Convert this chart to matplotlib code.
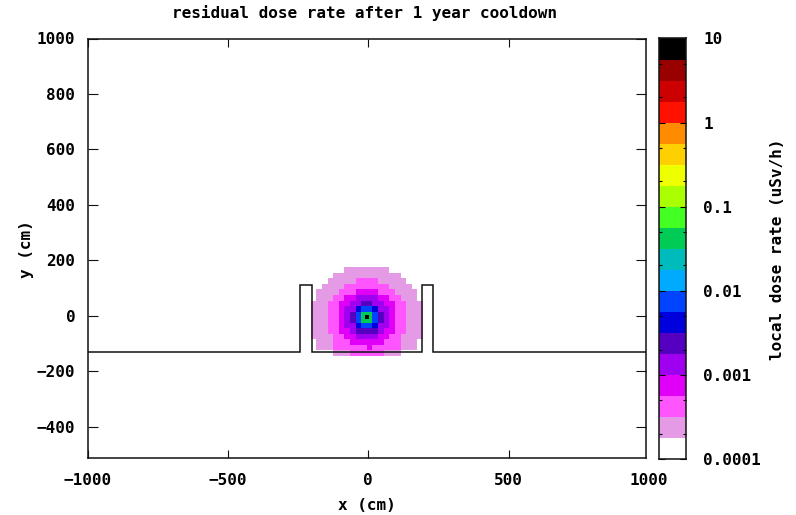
"""Residual dose rate map (gnuplot pm3d look) with a stepped log colour box."""

import numpy as np
import matplotlib
matplotlib.use("Agg")
import matplotlib.pyplot as plt
from matplotlib.colors import BoundaryNorm, ListedColormap

FONT = "DejaVu Sans Mono"
FONT_SIZE = 11.5

# colour bands, bottom to top, 4 per decade from 1e-4 to 10
band_edges = [1e-4, 1.78e-4, 3.16e-4, 5.62e-4,
              1e-3, 1.78e-3, 3.16e-3, 5.62e-3,
              1e-2, 1.78e-2, 3.16e-2, 5.62e-2,
              1e-1, 1.78e-1, 3.16e-1, 5.62e-1,
              1.0, 1.78, 3.16, 5.62, 10.0]
band_colors = ["#ffffff", "#e59ae6", "#ff55ff", "#e000f8",
               "#a000f0", "#5500c0", "#0000dd", "#0044ff",
               "#00aaff", "#00bbbb", "#00cc55", "#44ff22",
               "#aaff00", "#eeff00", "#ffd000", "#ff8c00",
               "#ff1100", "#cc0000", "#990000", "#000000"]

# dose by colour band, keyed by the codes used in dose_rows
dose_by_code = {"1": 2.4e-4, "2": 4.2e-4, "3": 7.5e-4, "4": 1.3e-3,
                "5": 2.4e-3, "6": 4.2e-3, "7": 7.5e-3, "G": 4.2e-2}

# 20 cm cells, rows from the top down
dose_rows = [
    "......11111111......",
    "....111111111111....",
    "...11111222211111...",
    "..1111222222221111..",
    ".111122233332221111.",
    ".111223344443322111.",
    "11122334455443322111",
    "11122344677644322111",
    "111223457GG754322111",
    "111223457GG754322111",
    "11122344677644322111",
    "11122334555543322111",
    "11112233444433221111",
    ".111222333333222111.",
    ".111222222322222111.",
    "....111222222111....",
]
cell_x_edges = [-205, -185, -165, -145, -125, -105, -85, -65, -45, -25, -5,
                15, 35, 55, 75, 95, 115, 135, 155, 175, 195]
cell_y_edges = [175, 155, 135, 115, 95, 75, 55, 35, 15, -5,
                -25, -45, -65, -85, -105, -125, -145]

# black spot at the source
peak_x = [-5]
peak_y = [-5]
peak_dose = [9.0]

# geometry outline
wall_x = [-1000, -245, -245, -201, -201, 191, 191, 231, 231, 989]
wall_y = [-131, -131, 111, 111, -131, -131, 111, 111, -131, -131]

x_ticks = [-1000, -500, 0, 500]
y_ticks = [-400, -200, 0, 200, 400, 600, 800, 1000]
cb_major = [1e-4, 1e-3, 1e-2, 1e-1, 1, 10]
cb_labels = ["0.0001", "0.001", "0.01", "0.1", "1", "10"]
cb_minor = [2e-4, 5e-4, 2e-3, 5e-3, 2e-2, 5e-2, 2e-1, 5e-1, 2, 5]

W, H = 796, 515


def px_axes(fig, left, top, right, bottom):
    return fig.add_axes([left / W, 1 - bottom / H, (right - left) / W, (bottom - top) / H])


def style_ax(ax):
    for s in ax.spines.values():
        s.set_linewidth(1.1)
        s.set_color("#111111")


fig = plt.figure(figsize=(W / 100, H / 100), dpi=100)
ax = px_axes(fig, 87.7, 38.5, 645.7, 457.5)
cax = px_axes(fig, 659, 38.5, 686, 459)

cmap = ListedColormap(band_colors)
norm = BoundaryNorm(band_edges, cmap.N)

grid = np.array([[dose_by_code.get(c, np.nan) for c in row] for row in dose_rows])
ax.pcolormesh(cell_x_edges, cell_y_edges, np.ma.masked_invalid(grid), cmap=cmap, norm=norm, zorder=1)
ax.scatter(peak_x, peak_y, c=peak_dose, cmap=cmap, norm=norm, marker="s", s=5, linewidths=0, zorder=2)
ax.plot(wall_x, wall_y, color="#111111", lw=1.1, solid_joinstyle="miter", zorder=3)

# the frame stops just short of the last tick values, as in the source plot
ax.set_xlim(-1000, 989)
ax.set_ylim(-511, 1000)
ax.set_xticks(x_ticks)
ax.set_yticks(y_ticks)
ax.tick_params(axis="x", direction="in", length=5.5, width=0.8, top=True, pad=11, color="#111111")
ax.tick_params(axis="y", direction="in", length=7, width=0.8, right=True, pad=9, color="#111111")
for lab in ax.get_xticklabels() + ax.get_yticklabels():
    lab.set_fontfamily(FONT)
    lab.set_fontweight("bold")
    lab.set_fontsize(FONT_SIZE)
style_ax(ax)

# 1000 sits past the frame edge, so it can't be a normal tick label
ax.annotate("1000", xy=(1000, 0), xycoords=ax.get_xaxis_transform(), xytext=(0, -11),
            textcoords="offset points", ha="center", va="top", annotation_clip=False,
            fontfamily=FONT, fontweight="bold", fontsize=FONT_SIZE)

# colour box
cax.pcolormesh([0, 1], band_edges, np.array(band_edges[:-1]).reshape(-1, 1) * 1.2,
               cmap=cmap, norm=norm)
cax.set_yscale("log")
cax.set_ylim(1e-4, 10)
cax.set_xticks([])
cax.yaxis.tick_right()
cax.set_yticks(cb_major)
cax.set_yticklabels(cb_labels, fontfamily=FONT, fontweight="bold", fontsize=FONT_SIZE)
cax.set_yticks(cb_minor, minor=True)
cax.set_yticklabels([], minor=True)
cax.tick_params(axis="y", which="major", direction="in", length=4.5, width=0.8, left=True, right=True, pad=12.5)
cax.tick_params(axis="y", which="minor", direction="in", length=2.5, width=0.8, left=True, right=True)
style_ax(cax)

text_kw = dict(fontfamily=FONT, fontweight="bold", fontsize=FONT_SIZE, color="black")
fig.text(364.5 / W, 1 - 13 / H, "residual dose rate after 1 year cooldown", ha="center", va="center", **text_kw)
fig.text(367 / W, 1 - 505 / H, "x (cm)", ha="center", va="center", **text_kw)
fig.text(26 / W, 1 - 249.5 / H, "y (cm)", ha="center", va="center", rotation=90, **text_kw)
fig.text(777 / W, 1 - 249 / H, "local dose rate (uSv/h)", ha="center", va="center", rotation=90, **text_kw)

fig.savefig("out.png", dpi=100)
